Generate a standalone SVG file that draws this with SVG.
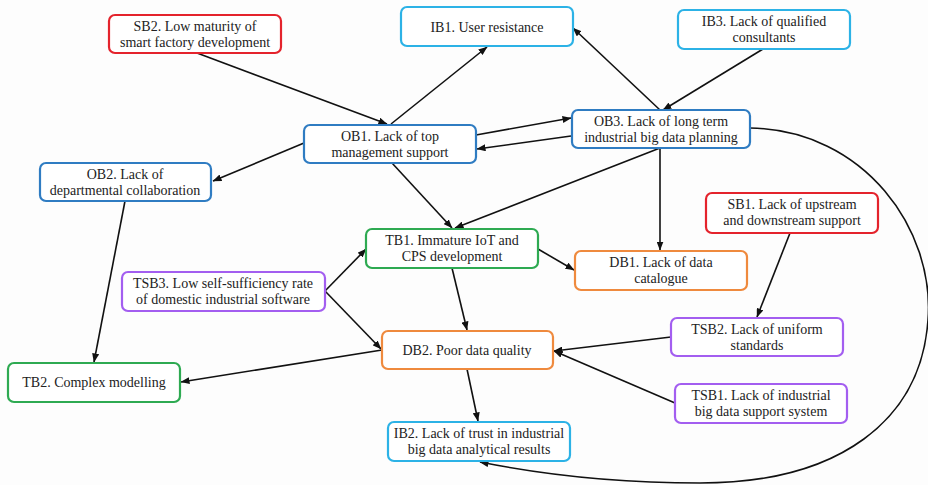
<svg xmlns="http://www.w3.org/2000/svg" width="928" height="485" viewBox="0 0 928 485">
<defs>
<marker id="ah" markerWidth="9" markerHeight="7" refX="8.5" refY="3.5" orient="auto" markerUnits="userSpaceOnUse">
<path d="M0,0 L9,3.5 L0,7 z" fill="#111"/>
</marker>
<style>
.n rect{fill:#fff;stroke-width:2.2;}
.n text{font-size:14px;fill:#222;text-anchor:middle;}
.red rect{stroke:#e4232c;}
.blue rect{stroke:#2f7cc2;}
.lb rect{stroke:#2cb2e6;}
.green rect{stroke:#2eaa52;}
.orange rect{stroke:#ef8a3e;}
.purple rect{stroke:#a35ef0;}
#edges path{fill:none;stroke:#111;stroke-width:1.6;marker-end:url(#ah);}
</style>
</defs>
<rect width="928" height="485" fill="#fdfdfd"/>
<g id="edges">
<path d="M197,53 L387,124"/>
<path d="M391,124 L487,47"/>
<path d="M660,110 L573,28"/>
<path d="M763,49 L663,110"/>
<path d="M476,135 L571,118"/>
<path d="M571,136 L477,149"/>
<path d="M304,143 L213,181"/>
<path d="M392,163 L452,228"/>
<path d="M660,148 L455,228"/>
<path d="M660,148 L660,250"/>
<path d="M538,249 L574,270"/>
<path d="M325,291 L366,249"/>
<path d="M325,291 L381,349"/>
<path d="M452,268 L467,330"/>
<path d="M382,350 L181,382"/>
<path d="M125,201 L94,362"/>
<path d="M467,369 L478,421"/>
<path d="M671,337 L554,351"/>
<path d="M675,403 L554,351"/>
<path d="M790,233 L757,317"/>
<path d="M750,128 C865,130 935,230 928,320 C921,420 840,483 700,483 C600,483 530,472 480,462"/>
</g>
<g id="nodes" font-family="Liberation Serif, serif">
<g id="SB2" class="n red"><rect x="109" y="15" width="172" height="38" rx="6"/><text x="195" y="31" font-family="Liberation Serif, serif">SB2. Low maturity of</text><text x="195" y="47" font-family="Liberation Serif, serif">smart factory development</text></g>
<g id="IB1" class="n lb"><rect x="401" y="7" width="172" height="39" rx="6"/><text x="487" y="32" font-family="Liberation Serif, serif">IB1. User resistance</text></g>
<g id="IB3" class="n lb"><rect x="678" y="10" width="172" height="39" rx="6"/><text x="764" y="26" font-family="Liberation Serif, serif">IB3. Lack of qualified</text><text x="764" y="42" font-family="Liberation Serif, serif">consultants</text></g>
<g id="OB3" class="n blue"><rect x="572" y="110" width="178" height="38" rx="6"/><text x="661" y="126" font-family="Liberation Serif, serif">OB3. Lack of long term</text><text x="661" y="142" font-family="Liberation Serif, serif">industrial big data planning</text></g>
<g id="OB1" class="n blue"><rect x="304" y="125" width="172" height="38" rx="6"/><text x="390" y="141" font-family="Liberation Serif, serif">OB1. Lack of top</text><text x="390" y="157" font-family="Liberation Serif, serif">management support</text></g>
<g id="OB2" class="n blue"><rect x="40" y="163" width="171" height="38" rx="6"/><text x="125" y="179" font-family="Liberation Serif, serif">OB2. Lack of</text><text x="125" y="195" font-family="Liberation Serif, serif">departmental collaboration</text></g>
<g id="TB1" class="n green"><rect x="366" y="229" width="172" height="39" rx="6"/><text x="452" y="245" font-family="Liberation Serif, serif">TB1. Immature IoT and</text><text x="452" y="261" font-family="Liberation Serif, serif">CPS development</text></g>
<g id="TSB3" class="n purple"><rect x="122" y="272" width="203" height="39" rx="6"/><text x="223" y="288" font-family="Liberation Serif, serif">TSB3. Low self-sufficiency rate</text><text x="223" y="304" font-family="Liberation Serif, serif">of domestic industrial software</text></g>
<g id="DB1" class="n orange"><rect x="575" y="251" width="172" height="39" rx="6"/><text x="661" y="267" font-family="Liberation Serif, serif">DB1. Lack of data</text><text x="661" y="283" font-family="Liberation Serif, serif">catalogue</text></g>
<g id="SB1" class="n red"><rect x="706" y="193" width="172" height="40" rx="6"/><text x="792" y="209" font-family="Liberation Serif, serif">SB1. Lack of upstream</text><text x="792" y="225" font-family="Liberation Serif, serif">and downstream support</text></g>
<g id="TSB2" class="n purple"><rect x="671" y="318" width="172" height="38" rx="6"/><text x="757" y="334" font-family="Liberation Serif, serif">TSB2. Lack of uniform</text><text x="757" y="350" font-family="Liberation Serif, serif">standards</text></g>
<g id="TSB1" class="n purple"><rect x="675" y="384" width="172" height="39" rx="6"/><text x="761" y="400" font-family="Liberation Serif, serif">TSB1. Lack of industrial</text><text x="761" y="416" font-family="Liberation Serif, serif">big data support system</text></g>
<g id="DB2" class="n orange"><rect x="382" y="331" width="171" height="38" rx="6"/><text x="467" y="355" font-family="Liberation Serif, serif">DB2. Poor data quality</text></g>
<g id="TB2" class="n green"><rect x="8" y="363" width="172" height="39" rx="6"/><text x="94" y="387" font-family="Liberation Serif, serif">TB2. Complex modelling</text></g>
<g id="IB2" class="n lb"><rect x="388" y="422" width="182" height="39" rx="6"/><text x="479" y="438" font-family="Liberation Serif, serif">IB2. Lack of trust in industrial</text><text x="479" y="454" font-family="Liberation Serif, serif">big data analytical results</text></g>
</g>
</svg>
